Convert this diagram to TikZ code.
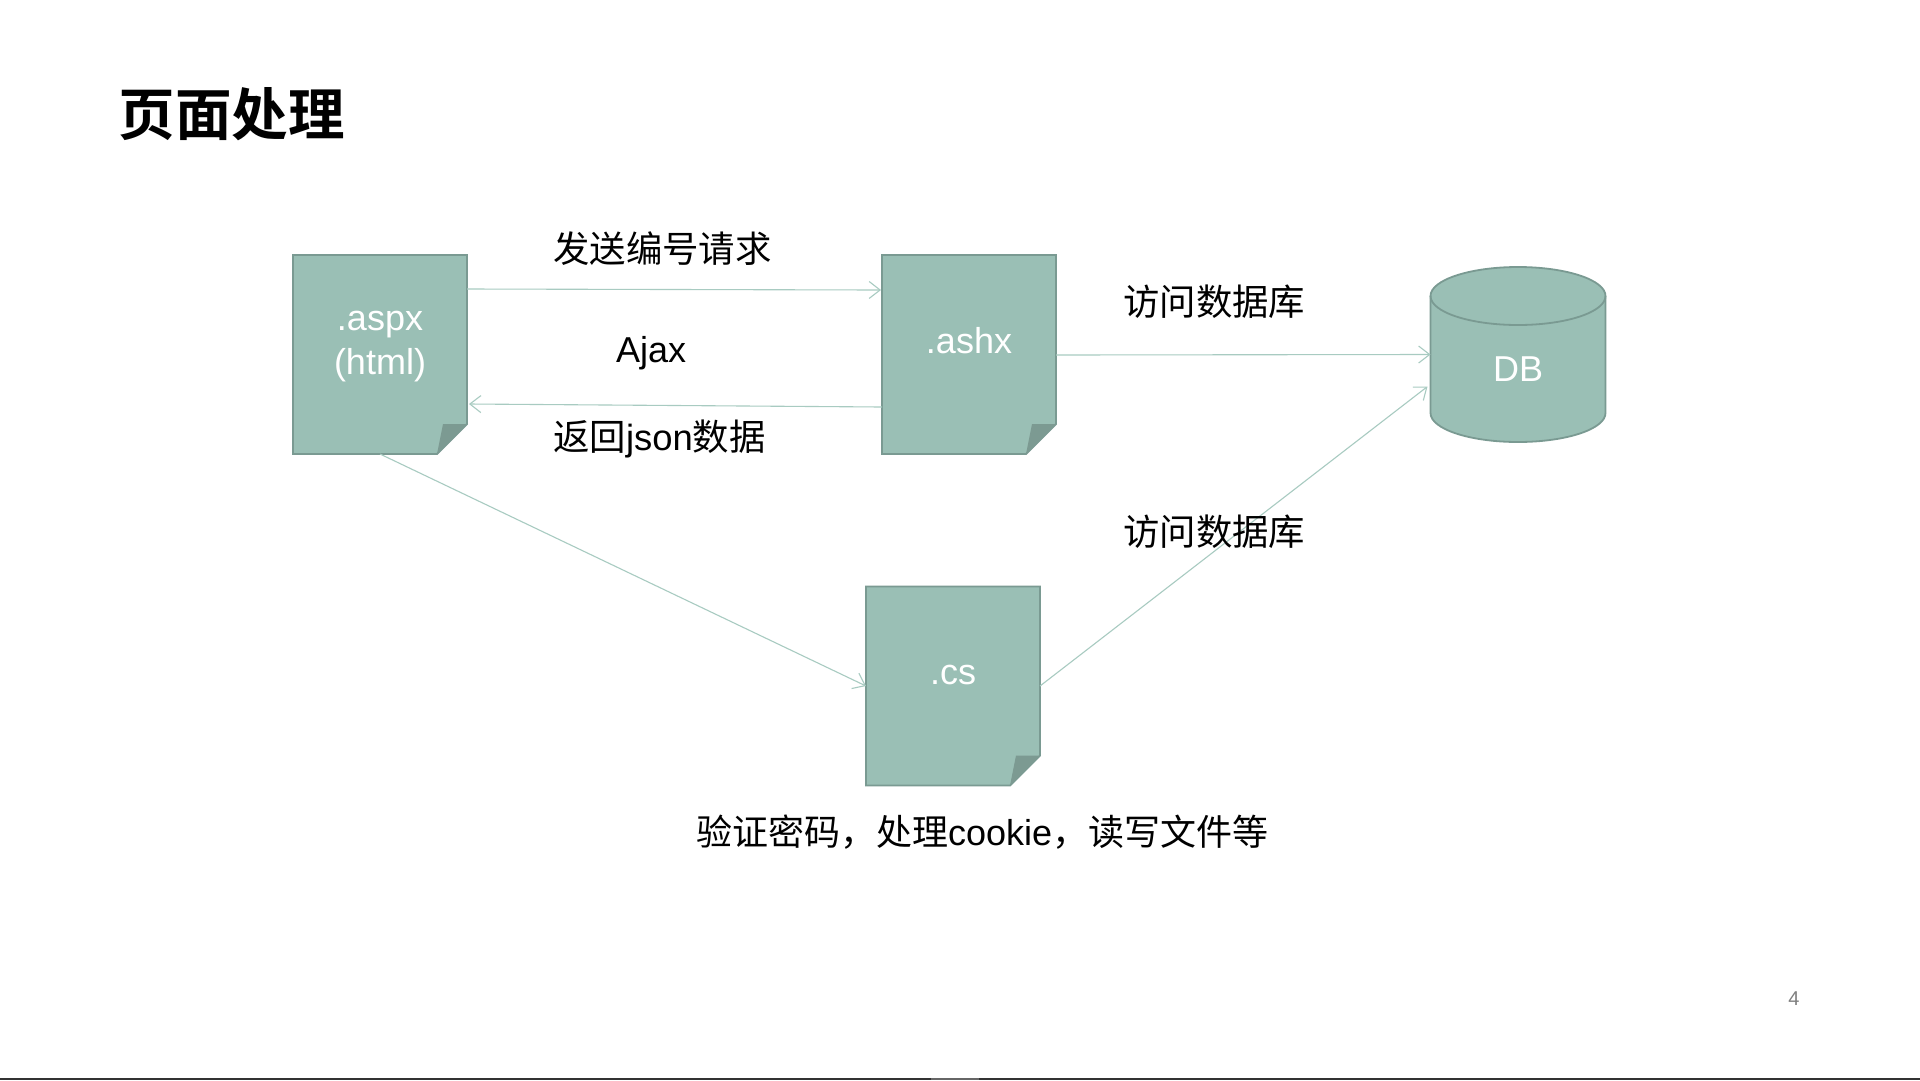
\documentclass[tikz,border=0pt]{standalone}
\usepackage{fontspec}
\setmainfont{Liberation Sans}
\newfontfamily\cjk{Noto Sans CJK SC}
\newfontfamily\cjkb{Noto Sans CJK SC Bold}
\usetikzlibrary{arrows.meta,calc}
\definecolor{docfill}{HTML}{9ABFB5}
\definecolor{docline}{HTML}{7A9A92}
\definecolor{foldfill}{HTML}{7C9A92}
\definecolor{linkcol}{HTML}{A8CBC1}
\tikzset{
  x=1pt,y=-1pt,
  docbox/.style={minimum width=174pt,minimum height=199pt,inner sep=0pt,outer sep=0pt},
  doctext/.style={text=white,font=\fontsize{36}{44}\selectfont,align=center,inner sep=0pt},
  lab/.style={anchor=west,inner sep=0pt,text=black,font=\fontsize{36.4}{44}\selectfont\cjk},
  link/.style={draw=linkcol,line width=1.1pt,-{Straight Barb[length=11pt,width=17pt,line width=1.1pt]}},
  docshape/.style={fill=docfill,draw=docline,line width=1.8pt,line join=miter},
}
\newcommand{\doc}[5]{%
  \node[docbox] (#1) at (#2,#3) {};
  \draw[docshape] (#1.north west) -- (#1.north east) -- ($(#1.south east)+(0,-30)$)
    -- ($(#1.south east)+(-30,0)$) -- (#1.south west) -- cycle;
  \fill[foldfill] ($(#1.south east)+(-30,0)$) -- ($(#1.south east)+(-24,-30)$) -- ($(#1.south east)+(0,-30)$) -- cycle;
  \node[doctext] (#1-t) at ($(#1)+(0,#5)$) {#4};
}
\begin{document}
\begin{tikzpicture}
\useasboundingbox (0,0) rectangle (1920,1080);
\fill[white] (0,0) rectangle (1920,1080);
\fill[black!80] (0,1078) rectangle (1920,1080);
\fill[black!60] (931,1078) rectangle (979,1080);

\node[anchor=west,inner sep=0pt,font=\fontsize{56.5}{66}\selectfont\cjkb] (title) at (118.5,114) {页面处理};

\doc{aspx}{380}{354.5}{.aspx\\(html)}{-8}
\doc{ashx}{969}{354.5}{.ashx}{-14}
\doc{cs}{953}{686}{.cs}{-11}

% database
\node[inner sep=0pt,outer sep=0pt,minimum width=175pt,minimum height=175pt] (db) at (1518,354.5) {};
\draw[docshape] ($(db.north west)+(0,29)$) -- ($(db.south west)+(0,-29)$)
  arc[start angle=180,end angle=360,x radius=87.5pt,y radius=29pt]
  -- ($(db.north east)+(0,29)$)
  arc[start angle=0,end angle=180,x radius=87.5pt,y radius=29pt] -- cycle;
\draw[docshape,fill=none] ($(db.north west)+(0,29)$)
  arc[start angle=180,end angle=360,x radius=87.5pt,y radius=29pt];
\node[doctext] (db-t) at (1518,369) {DB};

% connector ends
\coordinate (a1) at ($(aspx.north east)+(0,34)$);
\coordinate (b1) at ($(ashx.north west)+(-1,35)$);
\coordinate (b2) at ($(ashx.south west)+(0,-47)$);
\coordinate (a2) at ($(aspx.south east)+(2,-50)$);
\coordinate (b3) at ($(ashx.north east)+(0,100)$);
\coordinate (d1) at ($(db.west)+(0,0)$);
\coordinate (d2) at ($(db.west)+(-3,32)$);

\draw[link] (a1) -- (b1);
\draw[link] (b2) -- (a2);
\draw[link] (b3) -- (d1);
\draw[link] (aspx.south) -- (cs.west);
\draw[link] (cs.east) -- (d2);

\node[lab] (l1) at (553,249) {发送编号请求};
\node[lab,font=\fontsize{36}{43}\selectfont] (l2) at (616,353) {Ajax};
\node[lab] (l3) at (553,438.5) {返回{\rmfamily json}数据};
\node[lab] (l4) at (1123,301.5) {访问数据库};
\node[lab] (l5) at (1123,532) {访问数据库};
\node[lab,font=\fontsize{36}{44}\selectfont\cjk] (l6) at (696,832) {验证密码，处理{\rmfamily cookie}，读写文件等};
\node[inner sep=0pt,text=black!50,font=\fontsize{20}{24}\selectfont] (pg) at (1794,999) {4};
\end{tikzpicture}
\end{document}
